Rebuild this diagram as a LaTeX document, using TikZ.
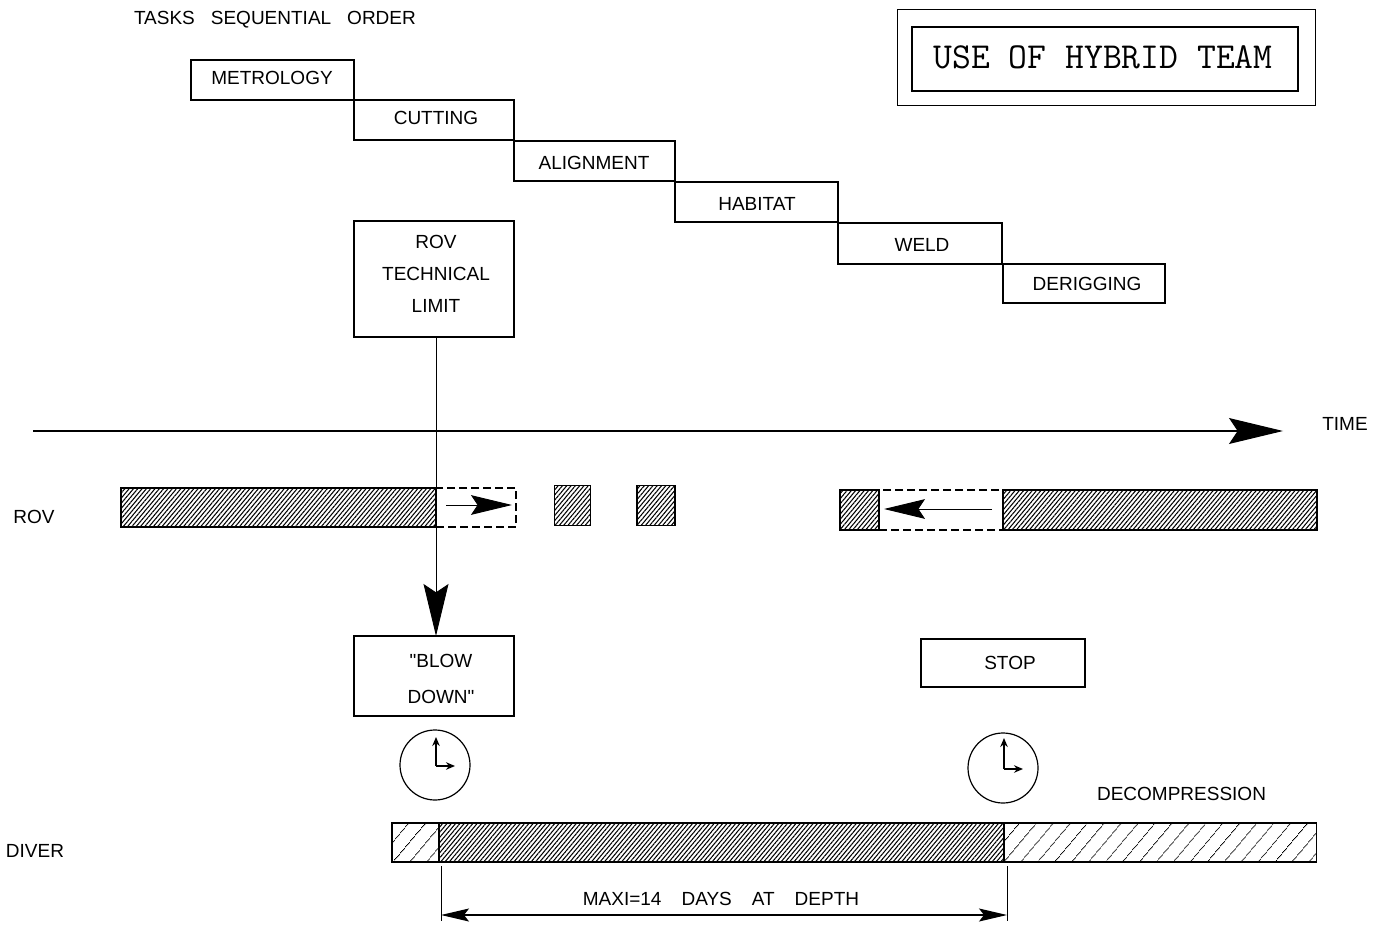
\documentclass[tikz,border=0pt]{standalone}
\usepackage{fontspec}
\newfontfamily\cadfont{Liberation Sans}
\newcommand\cadwidespace{\spaceskip=16pt\relax}
\newcommand\cadwiderspace{\spaceskip=20pt\relax}
\usetikzlibrary{arrows.meta,patterns.meta,shapes.geometric}
\tikzset{
  x=1pt,y=-1pt,
  box/.style={draw=black,line width=1.5pt,fill=white,inner sep=0pt,outer sep=0pt,minimum width=#1},
  box/.default=160pt,
  txt/.style={inner sep=0pt,outer sep=0pt,align=center,font=\cadfont\fontsize{19}{32}\selectfont},
  widetxt/.style={txt,font=\cadfont\fontsize{19}{32}\selectfont\cadwidespace},
  widertxt/.style={txt,font=\cadfont\fontsize{19}{32}\selectfont\cadwiderspace},
  dense/.style={draw=black,line width=1.8pt,inner sep=0pt,outer sep=0pt,pattern={Lines[angle=50,distance=3.3pt,line width=1.05pt]},pattern color=black},
  light/.style={draw=black,line width=1.5pt,inner sep=0pt,outer sep=0pt,pattern={Lines[angle=50,distance=13pt,line width=.8pt]},pattern color=black},
  ghost/.style={draw=black,line width=1.5pt,dash pattern=on 8pt off 4pt,inner sep=0pt,outer sep=0pt},
  conn/.style={draw=black,line width=.9pt},
  bighead/.style={-{Stealth[length=#1,width=.48*#1,inset=.16*#1]}},
  clockface/.style={draw=black,line width=1.2pt,circle,inner sep=0pt,outer sep=0pt,minimum size=70pt},
  hand/.style={draw=black,line width=1.4pt,-{Stealth[length=9pt,width=7.5pt]}}
}
\begin{document}
\begin{tikzpicture}
\useasboundingbox (0,0) rectangle (1383,925);
% title
\node[draw=black,line width=1pt,minimum width=418pt,minimum height=96pt,inner sep=0pt] (outer) at (1106,58) {};
\node[draw=black,line width=1.2pt,minimum width=386pt,minimum height=64pt,inner sep=0pt] (inner) at (1105,59) {};
\node[inner sep=0pt,font=\ttfamily\fontsize{36.6}{40}\selectfont] (title) at (1103,57) {USE OF HYBRID TEAM};
\node[widetxt,anchor=west] (tso) at (134,20) {TASKS SEQUENTIAL ORDER};
% tasks
\node[box=163pt,minimum height=40pt] (b1) at (272.5,80) {};
\node[box=160pt,minimum height=40pt] (b2) at (434,120) {};
\node[box=161pt,minimum height=40pt] (b3) at (594.5,161) {};
\node[box=163pt,minimum height=40pt] (b4) at (756.5,202) {};
\node[box=164pt,minimum height=41pt] (b5) at (920,243.5) {};
\node[box=162pt,minimum height=39pt] (b6) at (1084,283.5) {};
\node[txt] (t1) at (272,78) {METROLOGY};
\node[txt] (t2) at (436,118) {CUTTING};
\node[txt] (t3) at (594,163) {ALIGNMENT};
\node[txt] (t4) at (757,204) {HABITAT};
\node[txt] (t5) at (922,245) {WELD};
\node[txt] (t6) at (1087,284) {DERIGGING};
% limit box
\node[box=160pt,minimum height=116pt] (limit) at (434,279) {};
\node[txt] (limitt) at (436,274) {ROV\\TECHNICAL\\LIMIT};
% time axis
\coordinate (t0) at (33,431);
\coordinate (t9) at (1283,431);
\draw[conn,line width=1.1pt,bighead=54pt] (t0) -- (t9);
\node[txt] (time) at (1345,424) {TIME};
% ROV row
\node[txt] (rov) at (34,517) {ROV};
\node[dense,minimum width=315pt,minimum height=39pt] (r1) at (278.5,507.5) {};
\node[ghost,minimum width=80pt,minimum height=39pt] (r2) at (476,507.5) {};
\node[dense,minimum width=36pt,minimum height=40pt] (r3) at (572.5,505.5) {};
\node[dense,minimum width=38pt,minimum height=40pt] (r4) at (656,505.5) {};
\node[dense,minimum width=39pt,minimum height=40pt] (r5) at (859.5,510) {};
\node[ghost,minimum width=124pt,minimum height=40pt] (r6) at (941,510) {};
\node[dense,minimum width=314pt,minimum height=40pt] (r7) at (1160,510) {};
\coordinate (a1s) at (446,505);
\coordinate (a1e) at (512,505);
\draw[conn,bighead=41pt] (a1s) -- (a1e);
\coordinate (a2s) at (992,509);
\coordinate (a2e) at (884,509);
\draw[conn,bighead=41pt] (a2s) -- (a2e);
% blow down / stop
\node[box=160pt,minimum height=80pt] (blow) at (434,676) {};
\node[txt,font=\cadfont\fontsize{19}{36}\selectfont] (blowt) at (441,679) {"BLOW\\DOWN"};
\node[box=164pt,minimum height=48pt] (stop) at (1003,663) {};
\node[txt] (stopt) at (1010,663) {STOP};
\draw[conn,bighead=52pt] ([xshift=2pt]limit.south) -- ([xshift=2pt]blow.north);
% clocks
\node[clockface] (c1) at (435,765) {};
\coordinate (c1o) at (436,766);
\coordinate (c1u) at (436,737);
\coordinate (c1r) at (455,766);
\draw[hand] (c1o) -- (c1u);
\draw[hand] (c1o) -- (c1r);
\node[clockface] (c2) at (1003,768) {};
\coordinate (c2o) at (1004,769);
\coordinate (c2u) at (1004,738);
\coordinate (c2r) at (1023,769);
\draw[hand] (c2o) -- (c2u);
\draw[hand] (c2o) -- (c2r);
\node[txt] (deco) at (1181.5,794) {DECOMPRESSION};
% diver row
\node[txt] (diver) at (35,851) {DIVER};
\node[light,minimum width=47pt,minimum height=39pt] (d1) at (415.5,842.5) {};
\node[light,minimum width=313pt,minimum height=39pt] (d3) at (1160,842.5) {};
\node[dense,minimum width=565pt,minimum height=39pt] (d2) at (721.5,842.5) {};
% dimension
\coordinate (e1a) at (441,866);
\coordinate (e1b) at (441,921);
\coordinate (e2a) at (1007,866);
\coordinate (e2b) at (1007,921);
\draw[conn,line width=.7pt] (e1a) -- (e1b);
\draw[conn,line width=.7pt] (e2a) -- (e2b);
\coordinate (da) at (441,915);
\coordinate (db) at (1007,915);
\draw[conn,line width=1.1pt,{Stealth[length=28pt,width=13pt,inset=5pt]}-{Stealth[length=28pt,width=13pt,inset=5pt]}] (da) -- (db);
\node[widertxt] (maxi) at (721,899) {MAXI=14 DAYS AT DEPTH};
\end{tikzpicture}
\end{document}
